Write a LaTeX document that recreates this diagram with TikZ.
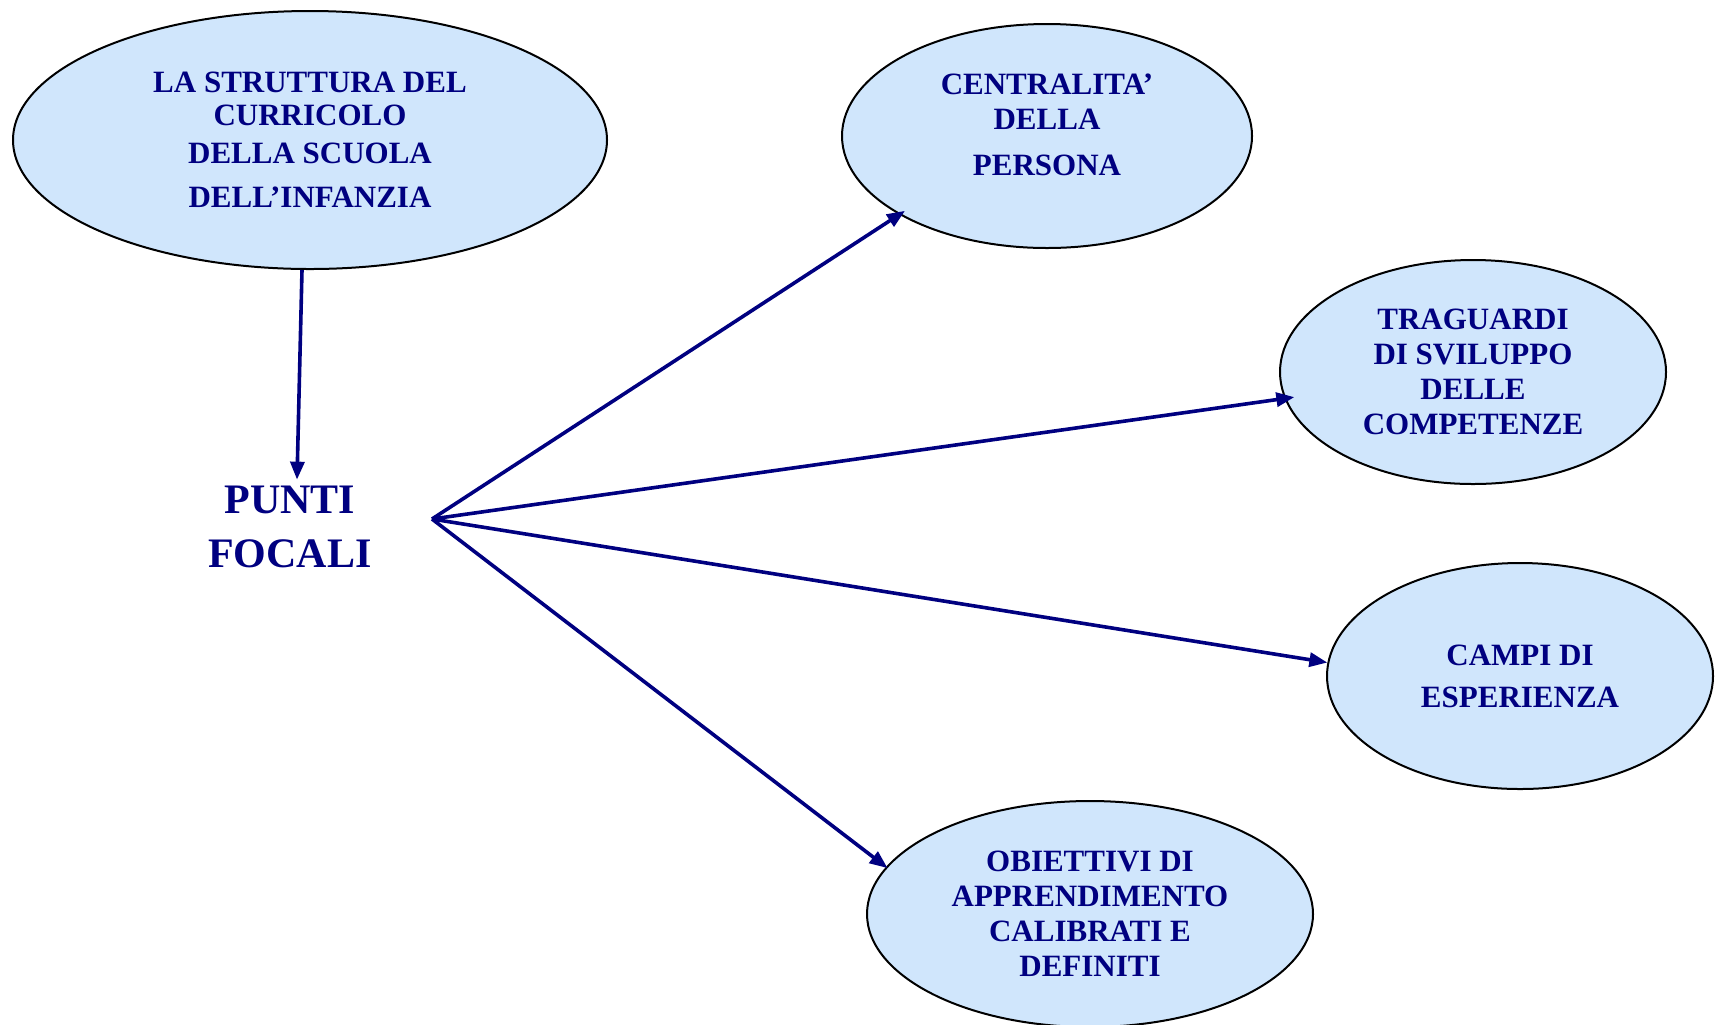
\documentclass[tikz,border=0pt]{standalone}
\usepackage{fontspec}
\setmainfont{Liberation Serif}
\usetikzlibrary{arrows.meta,shapes.geometric}
\definecolor{navytext}{RGB}{0,0,128}
\definecolor{bubblefill}{RGB}{208,230,252}

\begin{document}
\begin{tikzpicture}[x=0.5pt,y=-0.5pt,
    bubble/.style={ellipse,draw=black,line width=1pt,fill=bubblefill,text=navytext,
      font=\bfseries\fontsize{15.5}{17.5}\selectfont,align=center,inner sep=0pt},
    arr/.style={navytext,line width=1.8pt,-{Triangle[length=9pt,width=7pt]}}]
  \useasboundingbox (0,0) rectangle (1716,1024);
  \node[bubble,minimum width=297pt,minimum height=129pt] (struttura) at (310,140)
    {LA STRUTTURA DEL\\[-1pt]CURRICOLO\\[1.5pt]DELLA SCUOLA\\[4.5pt]DELL’INFANZIA};
  \node[bubble,minimum width=205pt,minimum height=112pt] (centralita) at (1047,136)
    {CENTRALITA’\\DELLA\\[5.5pt]PERSONA\\[-6pt]};
  \node[bubble,minimum width=193pt,minimum height=112pt] (traguardi) at (1473,372)
    {TRAGUARDI\\DI SVILUPPO\\DELLE\\COMPETENZE};
  \node[bubble,minimum width=193pt,minimum height=113pt] (campi) at (1520,676)
    {CAMPI DI\\[3.5pt]ESPERIENZA};
  \node[bubble,minimum width=223pt,minimum height=113pt] (obiettivi) at (1090,914)
    {OBIETTIVI DI\\APPRENDIMENTO\\CALIBRATI E\\DEFINITI};
  \node[text=navytext,font=\bfseries\fontsize{21}{27}\selectfont,align=center,inner sep=3pt]
    (punti) at (290,527) {PUNTI\\FOCALI};
  \coordinate (hub) at (432,519);
  \draw[arr] ([xshift=-4pt]struttura.south) -- ([xshift=3.5pt]punti.north);
  \foreach \n/\a/\s in {centralita/208/-3.5pt,traguardi/188/-5pt,campi/176/0pt,obiettivi/167/-1pt}
    \draw[arr,shorten >=\s] (hub) -- (\n.\a);
\end{tikzpicture}
\end{document}
